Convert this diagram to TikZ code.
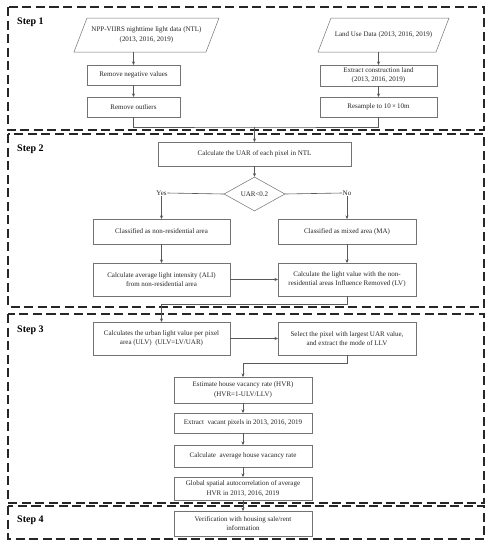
\documentclass[tikz,border=0pt]{standalone}
\usepackage{fontspec}
\setmainfont{Liberation Serif}
\usetikzlibrary{arrows.meta,shapes.geometric}
\tikzset{
  box/.style={draw=black!55, line width=0.5pt, inner sep=1pt, outer sep=0pt, align=center, font=\fontsize{7}{9.5}\selectfont, text=black!85},
  para/.style={inner sep=1pt, outer sep=0pt, align=center, font=\fontsize{7}{9.5}\selectfont, text=black!85},
  paraline/.style={draw=black!55, line width=0.5pt},
  conn/.style={draw=black!65, line width=0.6pt},
  arr/.style={conn, -{Stealth[length=3.5pt,width=3pt,fill=black]}},
  frame/.style={draw=black!85, line width=1.2pt, dash pattern=on 9pt off 4.5pt},
  steplabel/.style={font=\bfseries\fontsize{10}{12}\selectfont, anchor=west, inner sep=0pt},
  lbl/.style={inner sep=0.5pt, font=\fontsize{7}{9}\selectfont, text=black!85},
}
\begin{document}
\begin{tikzpicture}[x=1pt,y=-1pt]
\useasboundingbox (0,0) rectangle (494,550);
\fill[white] (0,0) rectangle (494,550);

% frames
\draw[frame] (8,7) rectangle (484,130);
\draw[frame] (8,134) rectangle (484,307);
\draw[frame] (8,314) rectangle (484,503);
\draw[frame] (8,506) rectangle (484,539);
\node[steplabel] (s1) at (17,22) {Step 1};
\node[steplabel] (s2) at (17,149) {Step 2};
\node[steplabel] (s3) at (17,330) {Step 3};
\node[steplabel] (s4) at (17,520) {Step 4};

% Step 1
\node[para, minimum width=132pt, minimum height=34pt] (ntl) at (146.5,35) {NPP-VIIRS nighttime light data (NTL)\\(2013, 2016, 2019)};
\draw[paraline] ([xshift=6.5pt]ntl.north west) -- ([xshift=6.5pt]ntl.north east) -- ([xshift=-6.5pt]ntl.south east) -- ([xshift=-6.5pt]ntl.south west) -- cycle;
\node[para, minimum width=118pt, minimum height=34pt] (land) at (383.5,35) {Land Use Data (2013, 2016, 2019)};
\draw[paraline] ([xshift=6.5pt]land.north west) -- ([xshift=6.5pt]land.north east) -- ([xshift=-6.5pt]land.south east) -- ([xshift=-6.5pt]land.south west) -- cycle;

\node[box, minimum width=93pt, minimum height=20pt] (rnv) at (133.5,75) {Remove negative values};
\node[box, minimum width=93pt, minimum height=20pt] (rout) at (133.5,107) {Remove outliers};
\node[box, minimum width=117pt, minimum height=21pt] (ecl) at (378.5,75.5) {Extract construction land\\(2013, 2016, 2019)};
\node[box, minimum width=117pt, minimum height=20pt] (res) at (378.5,107) {Resample to 10\,×\,10m};

\draw[arr] (rnv.north |- ntl.south) -- (rnv.north);
\draw[arr] (rnv) -- (rout);
\draw[arr] (ecl.north |- land.south) -- (ecl.north);
\draw[arr] (ecl) -- (res);

% Step 2
\node[box, minimum width=193pt, minimum height=24pt] (uar) at (254.5,154) {Calculate the UAR of each pixel in NTL};
\node[diamond, draw=black!55, line width=0.5pt, aspect=1.8, inner sep=0pt, minimum width=61pt, minimum height=34pt, font=\fontsize{7}{9}\selectfont, text=black!85] (dia) at (254.5,194) {UAR<0.2};
\coordinate (j1) at (254.5,127);
\draw[conn] (rout.south) |- (j1) -| (res.south);
\draw[arr] (j1) -- (uar.north);
\draw[arr] (uar) -- (dia);

\node[lbl] (yes) at (161.5,193) {Yes};
\node[lbl] (no) at (347,193) {No};
\node[box, minimum width=137pt, minimum height=25pt] (nonres) at (161.5,231.5) {Classified as non-residential area};
\node[box, minimum width=138pt, minimum height=25pt] (ma) at (347,231.5) {Classified as mixed area (MA)};
\node[box, minimum width=137pt, minimum height=33pt] (ali) at (161.5,279.5) {Calculate average light intensity (ALI)\\from non-residential area};
\node[box, minimum width=138pt, minimum height=33pt] (lv) at (347,279.5) {Calculate the light value with the non-\\residential areas Influence Removed (LV)};

\draw[conn] (dia.west) -- (yes.east);
\draw[arr] (yes.south) -- (nonres.north);
\draw[conn] (dia.east) -- (no.west);
\draw[arr] (no.south) -- (ma.north);
\draw[arr] (nonres) -- (ali);
\draw[arr] (ma) -- (lv);
\draw[arr] (ali) -- (lv);

% Step 3
\node[box, minimum width=137pt, minimum height=33pt] (ulv) at (161.5,338.5) {Calculates the urban light value per pixel\\area (ULV)~~(ULV=LV/UAR)};
\node[box, minimum width=138pt, minimum height=33pt] (sel) at (347,338.5) {Select the pixel with largest UAR value,\\and extract the mode of LLV};
\coordinate (j2) at (161.5,304);
\draw[arr] (lv.south) |- (j2) -- (ulv.north);
\draw[arr] (ulv) -- (sel);

\node[box, minimum width=138pt, minimum height=26pt] (est) at (243,390) {Estimate house vacancy rate (HVR)\\(HVR=1-ULV/LLV)};
\node[box, minimum width=138pt, minimum height=20pt] (ext) at (243,423) {Extract~~vacant pixels in 2013, 2016, 2019};
\node[box, minimum width=138pt, minimum height=22pt] (avg) at (243,456) {Calculate~~average house vacancy rate};
\node[box, minimum width=138pt, minimum height=23pt] (glob) at (243,488.5) {Global spatial autocorrelation of average\\HVR in 2013, 2016, 2019};
\coordinate (j3) at (243,363);
\draw[arr] (sel.south) |- (j3) -- (est.north);
\draw[arr] (est) -- (ext);
\draw[arr] (ext) -- (avg);
\draw[arr] (avg) -- (glob);

% Step 4
\node[box, minimum width=138pt, minimum height=25pt] (ver) at (243,523.5) {Verification with housing sale/rent\\information};
\draw[arr] (glob) -- (ver);
\end{tikzpicture}
\end{document}
